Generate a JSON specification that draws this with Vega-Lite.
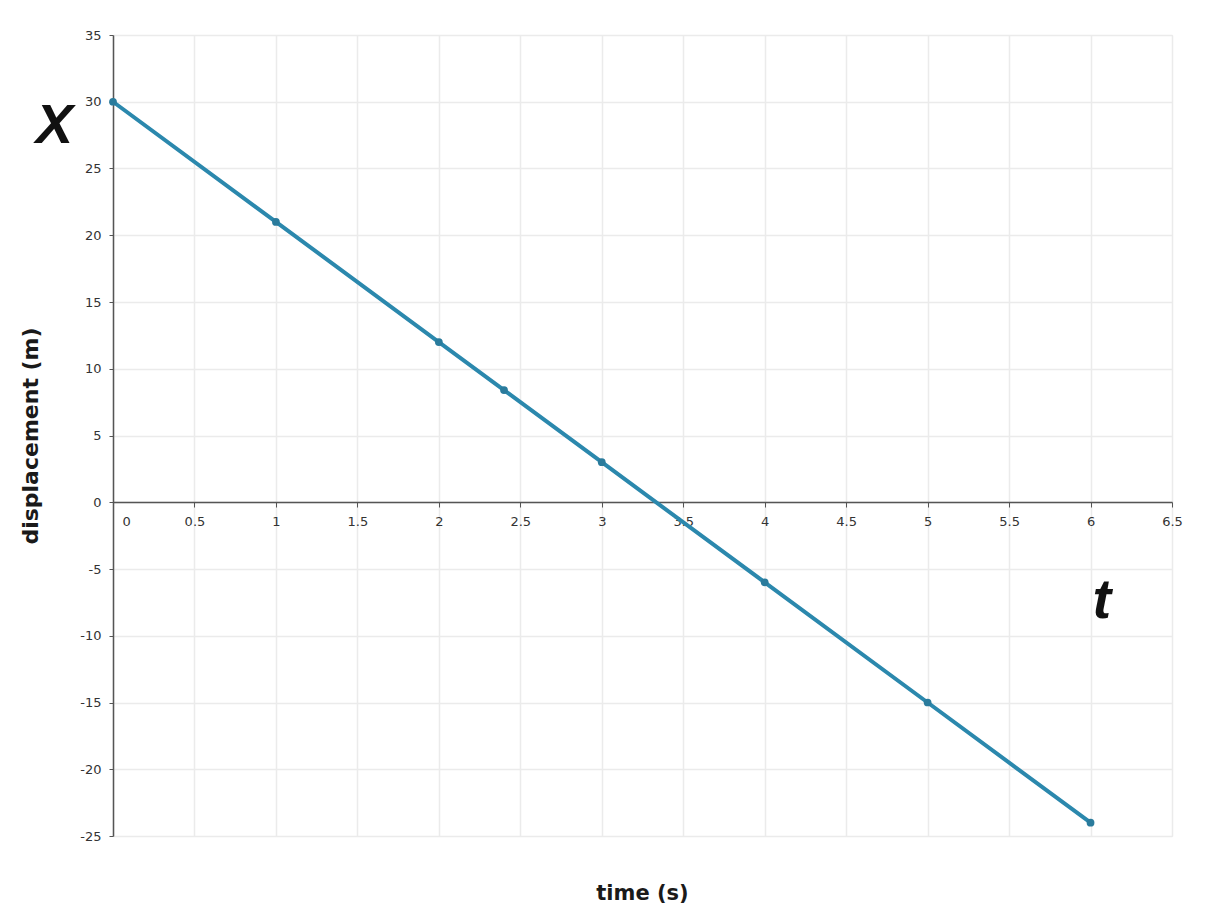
{
  "$schema": "https://vega.github.io/schema/vega-lite/v6.json",
  "width": 1059,
  "height": 801,
  "autosize": {"type": "none"},
  "padding": {"left": 113, "top": 35, "right": 40, "bottom": 69},
  "background": "white",
  "config": {
    "view": {"stroke": "#e6e6e6", "strokeWidth": 1},
    "font": "DejaVu Sans"
  },
  "title": {
    "text": "time (s)",
    "orient": "bottom",
    "offset": 40,
    "fontSize": 21,
    "fontWeight": "bold",
    "font": "DejaVu Sans",
    "color": "#1a1a1a"
  },
  "datasets": {
    "pts": [
      {"t": 0, "x": 30},
      {"t": 1, "x": 21},
      {"t": 2, "x": 12},
      {"t": 2.4, "x": 8.4},
      {"t": 3, "x": 3},
      {"t": 4, "x": -6},
      {"t": 5, "x": -15},
      {"t": 6, "x": -24}
    ],
    "notes": [
      {"t": -0.36, "x": 28.2, "label": "X"},
      {"t": 6.07, "x": -7.4, "label": "t"}
    ]
  },
  "layer": [
    {
      "data": {"name": "pts"},
      "mark": {"type": "line", "color": "#2b88ad", "strokeWidth": 4, "point": {"filled": true, "size": 60, "color": "#2a7b9c"}},
      "encoding": {
        "x": {
          "field": "t", "type": "quantitative",
          "scale": {"domain": [0, 6.5], "nice": false, "zero": false},
          "axis": {
            "title": null,
            "values": [0, 0.5, 1, 1.5, 2, 2.5, 3, 3.5, 4, 4.5, 5, 5.5, 6, 6.5],
            "labelExpr": "'' + datum.value",
            "offset": -334,
            "domainColor": "#555555",
            "domainWidth": 1.5,
            "tickColor": "#555555",
            "tickSize": 5,
            "labelFont": "DejaVu Sans",
            "labelFontSize": 13,
            "labelColor": "#333333",
            "labelPadding": 8,
            "labelAlign": {"condition": {"test": "datum.value == 0", "value": "left"}, "value": "center"},
            "labelOffset": {"condition": {"test": "datum.value == 0", "value": 9}, "value": 0},
            "labelFlush": false,
            "labelOverlap": false,
            "gridColor": "#ebebeb",
            "gridWidth": 1.5
          }
        },
        "y": {
          "field": "x", "type": "quantitative",
          "scale": {"domain": [-25, 35], "nice": false, "zero": false},
          "axis": {
            "title": "displacement (m)",
            "titleFont": "DejaVu Sans",
            "titleFontSize": 22,
            "titleFontWeight": "bold",
            "titleColor": "#1a1a1a",
            "titleX": -71,
            "titleBaseline": "bottom",
            "values": [-25, -20, -15, -10, -5, 0, 5, 10, 15, 20, 25, 30, 35],
            "labelExpr": "'' + datum.value",
            "domainColor": "#555555",
            "domainWidth": 1.5,
            "tickColor": "#555555",
            "tickSize": 4,
            "labelFont": "DejaVu Sans",
            "labelFontSize": 13,
            "labelColor": "#333333",
            "labelPadding": 8,
            "labelFlush": false,
            "labelOverlap": false,
            "gridColor": "#ebebeb",
            "gridWidth": 1.5
          }
        }
      }
    },
    {
      "data": {"name": "notes"},
      "mark": {"type": "text", "fontSize": 56, "fontStyle": "italic", "fontWeight": "bold", "font": "Liberation Sans", "color": "#111111", "clip": false, "baseline": "middle", "align": "center"},
      "encoding": {
        "x": {"field": "t", "type": "quantitative"},
        "y": {"field": "x", "type": "quantitative"},
        "text": {"field": "label"}
      }
    }
  ]
}
